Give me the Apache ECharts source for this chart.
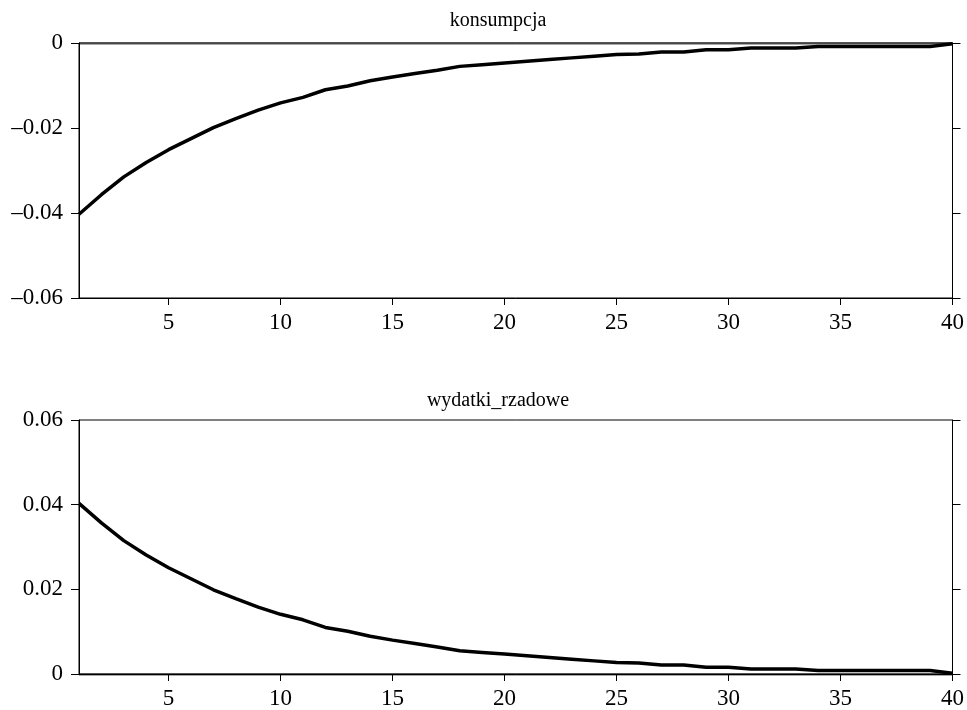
<!DOCTYPE html>
<html>
<head>
<meta charset="utf-8">
<script src="https://cdn.jsdelivr.net/npm/echarts@6/dist/echarts.min.js"></script>
<style>
    html, body { margin: 0; padding: 0; background: #fff; }
    #irf-chart { width: 967px; height: 710px; }
</style>
</head>
<body>
<div id="irf-chart"></div>
<script>
// horizon 1..40
const PERIODS = Array.from({length: 40}, (_, i) => i + 1);
const X_TICKS = [5, 10, 15, 20, 25, 30, 35, 40];

const CONSUMPTION = [
    -0.0403, -0.0357, -0.0315, -0.0281, -0.0251, -0.0225, -0.0199, -0.0178, -0.0158, -0.0141,
    -0.0128, -0.0110, -0.0101, -0.0089, -0.0080, -0.0072, -0.0064, -0.0055, -0.0051, -0.0047,
    -0.0043, -0.0039, -0.0035, -0.0031, -0.0027, -0.0026, -0.0021, -0.0021, -0.0016, -0.0016,
    -0.0012, -0.0012, -0.0012, -0.0008, -0.0008, -0.0008, -0.0008, -0.0008, -0.0008, -0.0002
];
const GOV_SPENDING = [
    0.0403, 0.0357, 0.0315, 0.0281, 0.0251, 0.0225, 0.0199, 0.0178, 0.0158, 0.0141,
    0.0128, 0.0110, 0.0101, 0.0089, 0.0080, 0.0072, 0.0064, 0.0055, 0.0051, 0.0047,
    0.0043, 0.0039, 0.0035, 0.0031, 0.0027, 0.0026, 0.0021, 0.0021, 0.0016, 0.0016,
    0.0012, 0.0012, 0.0012, 0.0008, 0.0008, 0.0008, 0.0008, 0.0008, 0.0008, 0.0002
];

const FONT = '"Liberation Serif", "DejaVu Serif", serif';
const LABEL_COLOR = '#000';

function fmtY(v) {
    if (Math.abs(v) < 1e-9) return '0';
    return (v < 0 ? '\u2013' : '') + Math.abs(v).toFixed(2);
}

function pairs(values) {
    return values.map((v, i) => [PERIODS[i], v]);
}

function xAxisFor(gridIndex) {
    return {
        type: 'value',
        gridIndex: gridIndex,
        position: 'bottom',
        min: 1,
        max: 40,
        z: 6,
        axisLine: {show: true, onZero: false, lineStyle: {color: '#000', width: 1}},
        axisTick: {show: true, inside: false, length: 7, lineStyle: {color: '#000'}, customValues: X_TICKS},
        axisLabel: {
            color: LABEL_COLOR, fontFamily: FONT, fontSize: 23, margin: 13,
            customValues: X_TICKS
        },
        splitLine: {show: false}
    };
}

function yAxesFor(gridIndex, min, max) {
    let base = {
        type: 'value',
        gridIndex: gridIndex,
        min: min,
        max: max,
        interval: 0.02,
        z: 6,
        axisLine: {show: true, onZero: false, lineStyle: {color: '#000', width: 1}},
        axisTick: {show: true, inside: false, length: 8, lineStyle: {color: '#000'}},
        splitLine: {show: false}
    };
    return [
        Object.assign({}, base, {
            position: 'left',
            axisLabel: {color: LABEL_COLOR, fontFamily: FONT, fontSize: 23, margin: 16, formatter: fmtY}
        }),
        Object.assign({}, base, {
            position: 'right',
            axisLabel: {show: false}
        })
    ];
}

function irfSeries(name, axisIndex, values) {
    return {
        name: name,
        type: 'line',
        xAxisIndex: axisIndex,
        yAxisIndex: axisIndex * 2,
        data: pairs(values),
        showSymbol: false,
        smooth: false,
        lineStyle: {color: '#000', width: 3.5},
        z: 3,
        markLine: {
            silent: true,
            symbol: 'none',
            label: {show: false},
            lineStyle: {color: '#8c8c8c', width: 2.5, type: 'solid'},
            data: [{yAxis: 0}],
            z: 1
        }
    };
}

let irf_chart = echarts.init(document.getElementById('irf-chart'));

let option = {
    animation: false,
    backgroundColor: '#fff',
    title: [
        {
            text: 'konsumpcja',
            left: 493,
            textAlign: 'center',
            top: 6,
            textStyle: {fontFamily: FONT, fontSize: 20, fontWeight: 'normal', color: '#000'}
        },
        {
            text: 'wydatki_rzadowe',
            left: 493,
            textAlign: 'center',
            top: 386,
            textStyle: {fontFamily: FONT, fontSize: 20, fontWeight: 'normal', color: '#000'}
        }
    ],
    grid: [
        {left: 79, right: 12, top: 43, height: 255, z: 5, show: true, borderColor: '#000', borderWidth: 1, backgroundColor: 'transparent'},
        {left: 79, right: 12, top: 420, height: 255, z: 5, show: true, borderColor: '#000', borderWidth: 1, backgroundColor: 'transparent'}
    ],
    xAxis: [xAxisFor(0), xAxisFor(1)],
    yAxis: yAxesFor(0, -0.06, 0).concat(yAxesFor(1, 0, 0.06)),
    series: [
        irfSeries('konsumpcja', 0, CONSUMPTION),
        irfSeries('wydatki_rzadowe', 1, GOV_SPENDING)
    ]
};
irf_chart.setOption(option);

window.addEventListener('resize', function () {
    irf_chart?.resize();
});
</script>
</body>
</html>
